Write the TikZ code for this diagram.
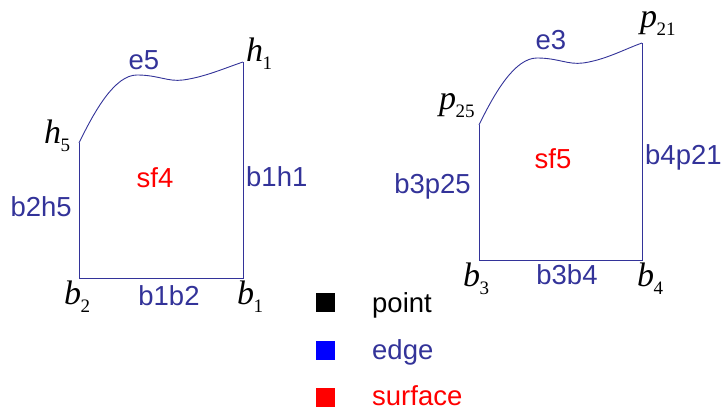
\documentclass[tikz,border=0pt]{standalone}
\usepackage{fontspec}
\setmainfont{Liberation Sans}
\newfontfamily\tms{Liberation Serif}
\definecolor{edgeblue}{RGB}{51,51,153}
\newcommand{\vtx}[2]{{\tms\itshape\fontsize{34}{34}\selectfont #1}\kern-0.5pt\raisebox{-8pt}{\tms\fontsize{19}{19}\selectfont #2}}
\tikzset{
  edge/.style={draw=edgeblue, line width=0.9pt},
  elabel/.style={text=edgeblue, font=\fontsize{27.5}{27.5}\selectfont, inner sep=0pt},
  slabel/.style={text=red, font=\fontsize{27.5}{27.5}\selectfont, inner sep=0pt},
  plabel/.style={anchor=base west, inner sep=0pt},
  key/.style={minimum size=19pt, inner sep=0pt},
  ktext/.style={anchor=base west, inner sep=0pt, font=\fontsize{27.5}{27.5}\selectfont}
}
\begin{document}
\begin{tikzpicture}[x=1pt, y=-1pt]
            \useasboundingbox (0,0) rectangle (721,409);

            % Define corners
            \coordinate (b2) at (79,278);
            \coordinate (b1) at (243,278);
            \coordinate (h1) at (243,62);
            \coordinate (h5) at (79,143);
            \coordinate (b3) at (479,260);
            \coordinate (b4) at (642,260);
            \coordinate (p21) at (642,43);
            \coordinate (p25) at (479,125);

            % Draw edges
            \draw[edge] (b2) -- (b1) -- (h1);
            \draw[edge] (b2) -- (h5);
            \draw[edge] (h5) .. controls (95,110) and (115,75) .. (137,75)
                .. controls (158,75) and (168,82) .. (183,80)
                .. controls (205,77) and (225,68) .. (h1);
            \draw[edge] (b3) -- (b4) -- (p21);
            \draw[edge] (b3) -- (p25);
            \draw[edge] (p25) .. controls (495,92) and (515,58) .. (537,58)
                .. controls (558,58) and (568,65) .. (583,63)
                .. controls (605,60) and (625,49) .. (p21);

            % Point labels
            \node[plabel] (lh1) at (246,62) {\vtx{h}{1}};
            \node[plabel] (lh5) at (44,144) {\vtx{h}{5}};
            \node[plabel] (lb2) at (64,305) {\vtx{b}{2}};
            \node[plabel] (lb1) at (237,305) {\vtx{b}{1}};
            \node[plabel] (lp21) at (640,28) {\vtx{p}{21}};
            \node[plabel] (lp25) at (439,110) {\vtx{p}{25}};
            \node[plabel] (lb3) at (463,287) {\vtx{b}{3}};
            \node[plabel] (lb4) at (637,287) {\vtx{b}{4}};

            % Edge labels
            \node[elabel] (e5) at (144,60) {e5};
            \node[elabel, anchor=east] (b2h5) at (72,207) {b2h5};
            \node[elabel] (b1b2) at (169,296) {b1b2};
            \node[elabel, anchor=west] (b1h1) at (246,177) {b1h1};
            \node[elabel] (e3) at (551,40) {e3};
            \node[elabel, anchor=east] (b3p25) at (471,186) {b3p25};
            \node[elabel] (b3b4) at (567,275) {b3b4};
            \node[elabel, anchor=west] (b4p21) at (645,157) {b4p21};

            % Surface labels
            \node[slabel] (sf4) at (155,178) {sf4};
            \node[slabel] (sf5) at (553,159) {sf5};

            % Legend
            \node[key, fill=black] (kp) at (325,302) {};
            \node[key, fill=blue] (ke) at (325,350) {};
            \node[key, fill=red] (ks) at (325,397) {};
            \node[ktext] (tp) at (372,312) {point};
            \node[ktext, text=edgeblue] (te) at (372,359) {edge};
            \node[ktext, text=red] (ts) at (372,405) {surface};

        \end{tikzpicture}
\end{document}
